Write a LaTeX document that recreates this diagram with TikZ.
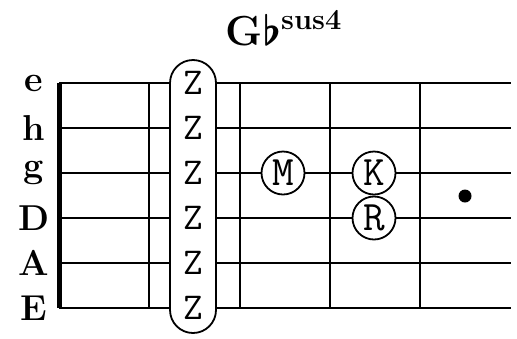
\documentclass[tikz,border=0pt]{standalone}
\begin{document}
\begin{tikzpicture}[x=0.5pt,y=-0.5pt,
        tone/.style={draw, circle, fill=white, line width=0.9pt, minimum size=21.5pt, inner sep=0pt, font=\fontsize{21}{23}\selectfont\ttfamily},
        stringname/.style={font=\fontsize{18}{20}\selectfont\bfseries}]
        \useasboundingbox (0,0) rectangle (517,338);
        % strings
            \foreach \y/\s in {0/e,1/h,2/g,3/D,4/A,5/E}{
                \node[stringname] (\s) at (34,83+45*\y) {\s};
                \coordinate (start\s) at (59,83+45*\y);
                \coordinate (end\s) at (511,83+45*\y);
                \draw[line width=0.6pt] (start\s) -- (end\s);
            }
        % nut and frets
            \draw[line width=2.5pt] (starte) -- (startE);
            \foreach \x in {149,239.5,329.75,420}{
                \draw[line width=1pt] (\x,83) -- (\x,308);
            }
        % barre
            \draw[fill=white, line width=0.9pt, rounded corners=11.5pt] (170,60) rectangle (216,333);
            \foreach \y/\s in {0/e,1/h,2/g,3/D,4/A,5/E}{
                \node[font=\fontsize{19}{21}\selectfont\ttfamily] (barre\s) at (193,83+45*\y) {Z};
            }
        % fingers
            \node[tone] (M) at (283,173) {M};
            \node[tone] (K) at (374,173) {K};
            \node[tone] (R) at (374,218) {R};
            \node[fill, circle, minimum size=6.5pt, inner sep=0pt] (dot) at (465,196) {};
        % label
            \node[anchor=base, font=\fontsize{21}{24}\selectfont\bfseries] (chord) at (284,45) {G{\boldmath$\flat$}\textsuperscript{\fontsize{14.5}{16}\selectfont sus4}};
        \end{tikzpicture}
\end{document}
